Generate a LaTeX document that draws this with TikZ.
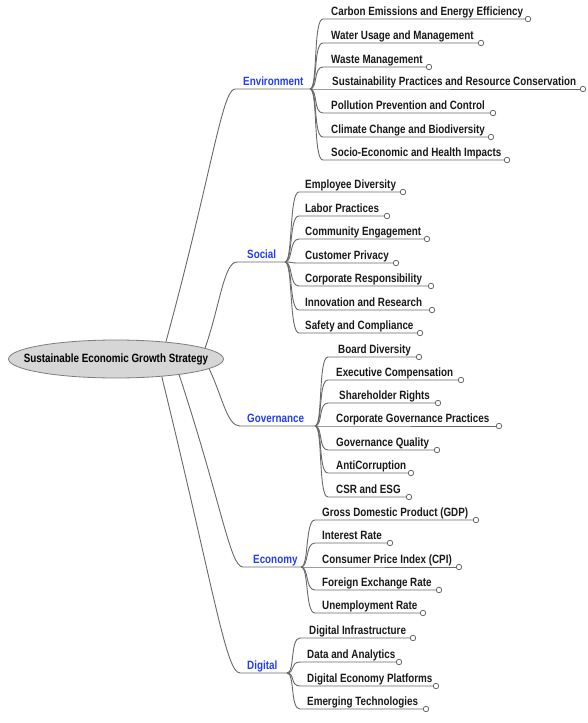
\documentclass[tikz,border=0pt]{standalone}
\usepackage{fontspec}
\usetikzlibrary{shapes.geometric}
\newfontfamily\mapfont[FakeStretch=0.82]{Liberation Sans}
\definecolor{edgegray}{RGB}{105,105,105}
\definecolor{catblue}{RGB}{35,60,245}
\definecolor{rootfill}{RGB}{214,214,214}
\definecolor{rootline}{RGB}{125,125,125}
\definecolor{leaftext}{RGB}{25,25,25}

\begin{document}
\begin{tikzpicture}[x=1pt,y=-1pt,
  every node/.style={font=\mapfont\bfseries\fontsize{12}{14}\selectfont},
  rootnode/.style={ellipse, draw=rootline, fill=rootfill, minimum width=215pt,
    minimum height=38pt, inner xsep=-20pt, inner ysep=0pt, line width=0.8pt},
  catlabel/.style={anchor=base west, text=catblue, inner sep=0pt},
  leaflabel/.style={anchor=base west, text=leaftext, inner sep=0pt},
  endmark/.style={circle, draw=edgegray, fill=white, minimum size=5.5pt,
    inner sep=0pt, line width=0.8pt},
  link/.style={draw=edgegray, line width=0.9pt},
]
\useasboundingbox (0,0) rectangle (588,723);

% central topic
\node[rootnode] (root) at (116,359) {Sustainable Economic Growth Strategy};

% ---------- Environment ----------
\coordinate (envE) at (235,89);
\coordinate (envB) at (310,89);
\node[catlabel] (env) at (243,85.5) {Environment};
\draw[link] (root.19) .. controls (211,177) and (222,89) .. (envE) -- (envB);
\foreach \n/\t/\uy/\tx/\cx in {
  env1/Carbon Emissions and Energy Efficiency/19/331/528,
  env2/Water Usage and Management/43/331/481,
  env3/Waste Management/67/331/429,
  env4/Sustainability Practices and Resource Conservation/89/332/583,
  env5/Pollution Prevention and Control/113/331/493,
  env6/Climate Change and Biodiversity/137/331/491,
  env7/Socio-Economic and Health Impacts/160/331/507}{
  \node[leaflabel] (\n) at (\tx,\uy-3.5) {\t};
  \node[endmark] (\n-end) at (\cx,\uy) {};
  \coordinate (\n-in) at (323,\uy);
  \draw[link] (envB) .. controls +(8,0) and +(-10,0) .. (\n-in) -- (\n-end.west);
}

% ---------- Social ----------
\coordinate (socE) at (237,262);
\coordinate (socB) at (285,262);
\node[catlabel] (soc) at (247,258.5) {Social};
\draw[link] (root.7) .. controls (220,305) and (224,262) .. (socE) -- (socB);
\foreach \n/\t/\uy/\tx/\cx in {
  soc1/Employee Diversity/192/305/403,
  soc2/Labor Practices/216/305/387,
  soc3/Community Engagement/239/305/427,
  soc4/Customer Privacy/263/305/396,
  soc5/Corporate Responsibility/286/305/431,
  soc6/Innovation and Research/310/305/432,
  soc7/Safety and Compliance/333/305/420}{
  \node[leaflabel] (\n) at (\tx,\uy-3.5) {\t};
  \node[endmark] (\n-end) at (\cx,\uy) {};
  \coordinate (\n-in) at (299,\uy);
  \draw[link] (socB) .. controls +(8,0) and +(-10,0) .. (\n-in) -- (\n-end.west);
}

% ---------- Governance ----------
\coordinate (govE) at (240,426);
\coordinate (govB) at (315,426);
\node[catlabel] (gov) at (247,422.5) {Governance};
\draw[link] (root.-6) .. controls (223,398) and (227,426) .. (govE) -- (govB);
\foreach \n/\t/\uy/\tx/\cx in {
  gov1/Board Diversity/357/338/419,
  gov2/Executive Compensation/380/336/461,
  gov3/Shareholder Rights/403/339/438,
  gov4/Corporate Governance Practices/426/336/499,
  gov5/Governance Quality/450/336/437,
  gov6/AntiCorruption/473/336/411,
  gov7/CSR and ESG/497/336/409}{
  \node[leaflabel] (\n) at (\tx,\uy-3.5) {\t};
  \node[endmark] (\n-end) at (\cx,\uy) {};
  \coordinate (\n-in) at (328,\uy);
  \draw[link] (govB) .. controls +(8,0) and +(-10,0) .. (\n-in) -- (\n-end.west);
}

% ---------- Economy ----------
\coordinate (ecoE) at (243,567);
\coordinate (ecoB) at (301,567);
\node[catlabel] (eco) at (253,563.5) {Economy};
\draw[link] (root.-14) .. controls (222,505) and (230,567) .. (ecoE) -- (ecoB);
\foreach \n/\t/\uy/\tx/\cx in {
  eco1/Gross Domestic Product (GDP)/520/322/476,
  eco2/Interest Rate/543/322/390,
  eco3/Consumer Price Index (CPI)/567/322/459,
  eco4/Foreign Exchange Rate/590/322/439,
  eco5/Unemployment Rate/613/322/423}{
  \node[leaflabel] (\n) at (\tx,\uy-3.5) {\t};
  \node[endmark] (\n-end) at (\cx,\uy) {};
  \coordinate (\n-in) at (315,\uy);
  \draw[link] (ecoB) .. controls +(8,0) and +(-10,0) .. (\n-in) -- (\n-end.west);
}

% ---------- Digital ----------
\coordinate (digE) at (240,673);
\coordinate (digB) at (287,673);
\node[catlabel] (dig) at (247,669.5) {Digital};
\draw[link] (root.-21) .. controls (214,590) and (226,673) .. (digE) -- (digB);
\foreach \n/\t/\uy/\tx/\cx in {
  dig1/Digital Infrastructure/638/309/413,
  dig2/Data and Analytics/662/307/399,
  dig3/Digital Economy Platforms/686/307/436,
  dig4/Emerging Technologies/709/307/426}{
  \node[leaflabel] (\n) at (\tx,\uy-3.5) {\t};
  \node[endmark] (\n-end) at (\cx,\uy) {};
  \coordinate (\n-in) at (300,\uy);
  \draw[link] (digB) .. controls +(8,0) and +(-10,0) .. (\n-in) -- (\n-end.west);
}
\end{tikzpicture}
\end{document}
